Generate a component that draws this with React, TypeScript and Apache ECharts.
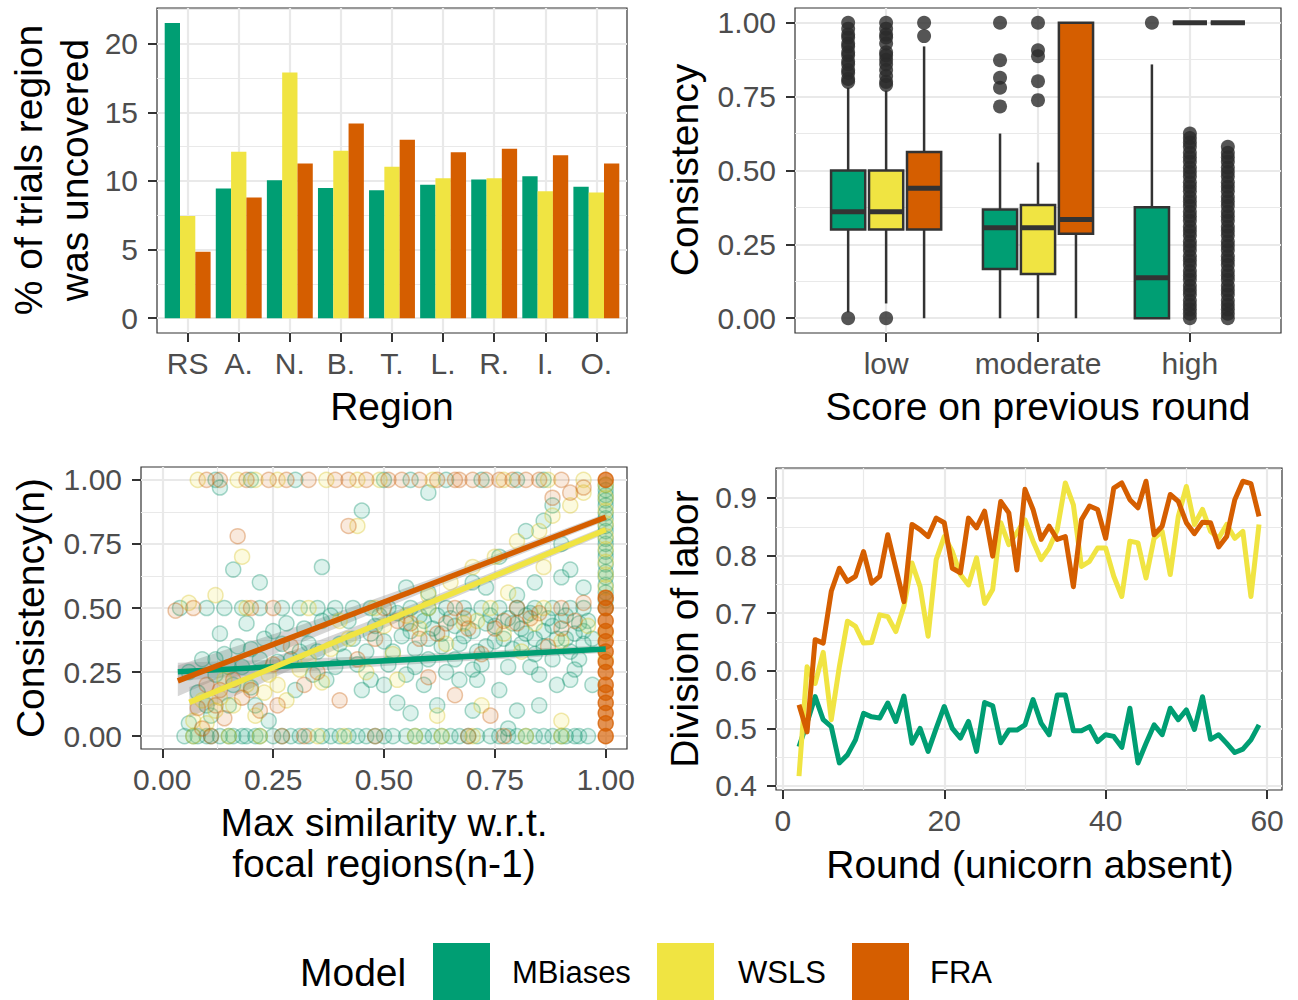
import React, { useEffect, useRef } from 'react';
import * as echarts from 'echarts';

const FONT = '"Liberation Sans", Arial, Helvetica, sans-serif';
const C_MB = '#009E73';
const C_WS = '#F0E442';
const C_FRA = '#D55E00';
const GRID = '#e9e9e9';
const TICK_TXT = '#4d4d4d';

// ---------- Panel A: % of trials region was uncovered ----------
const regions = ['RS', 'A.', 'N.', 'B.', 'T.', 'L.', 'R.', 'I.', 'O.'];
const regionPos = [1, 2, 3, 4, 5, 6, 7, 8, 9];
const pctMBiases = [21.5, 9.45, 10.06, 9.48, 9.33, 9.72, 10.1, 10.35, 9.58];
const pctWSLS = [7.44, 12.12, 17.9, 12.2, 11.03, 10.2, 10.2, 9.26, 9.16];
const pctFRA = [4.85, 8.8, 11.27, 14.18, 13.0, 12.1, 12.34, 11.88, 11.27];
const pctTicks = [0, 5, 10, 15, 20];
const pctMinor = [2.5, 7.5, 12.5, 17.5, 22.5];

// ---------- Panel B: consistency by score on previous round ----------
const scoreGroups = ['low', 'moderate', 'high'];
const scorePos = [1, 2, 3];
// [lower whisker, Q1, median, Q3, upper whisker]
const boxMBiases = [
  [0.02, 0.3, 0.36, 0.5, 0.78],
  [0, 0.167, 0.306, 0.368, 0.625],
  [0, 0, 0.137, 0.376, 0.859],
];
const boxWSLS = [
  [0.05, 0.3, 0.36, 0.5, 0.77],
  [0, 0.15, 0.306, 0.383, 0.527],
  [1, 1, 1, 1, 1],
];
const boxFRA = [
  [0, 0.3, 0.44, 0.563, 0.92],
  [0, 0.286, 0.334, 1.0, 1.0],
  [1, 1, 1, 1, 1],
];
const outMBiases = [
  [0, 0.8, 0.81, 0.83, 0.84, 0.86, 0.87, 0.89, 0.9, 0.92, 0.93, 0.95, 0.96, 0.98, 1.0],
  [0.717, 0.78, 0.814, 0.873, 1.0],
  [1.0],
];
const outWSLS = [
  [0, 0.79, 0.8, 0.82, 0.84, 0.86, 0.875, 0.89, 0.9, 0.93, 0.95, 0.96, 0.98, 1.0],
  [0.738, 0.802, 0.887, 0.907, 1.0],
  [0, 0.015, 0.03, 0.045, 0.06, 0.08, 0.095, 0.11, 0.13, 0.145, 0.16, 0.18, 0.195, 0.21, 0.23, 0.245, 0.26, 0.28, 0.295, 0.31, 0.33, 0.345, 0.36, 0.38, 0.395, 0.41, 0.43, 0.445, 0.46, 0.48, 0.495, 0.51, 0.53, 0.545, 0.56, 0.58, 0.595, 0.61, 0.625],
];
const outFRA = [
  [0.955, 1.0],
  [],
  [0, 0.015, 0.03, 0.045, 0.06, 0.08, 0.095, 0.11, 0.13, 0.145, 0.16, 0.18, 0.195, 0.21, 0.23, 0.245, 0.26, 0.28, 0.295, 0.31, 0.33, 0.345, 0.36, 0.38, 0.395, 0.41, 0.43, 0.445, 0.46, 0.48, 0.495, 0.51, 0.53, 0.545, 0.56, 0.58],
];
const consTicks = [0, 0.25, 0.5, 0.75, 1];
const consMinor = [0.125, 0.375, 0.625, 0.875];

// ---------- Panel C: consistency(n) vs max similarity ----------
const simMBiases = [
  [0.05, 0], [0.07, 0], [0.08, 0], [0.1, 0], [0.11, 0], [0.13, 0], [0.15, 0], [0.16, 0], [0.18, 0], [0.19, 0], [0.21, 0], [0.22, 0], [0.25, 0], [0.27, 0], [0.29, 0], [0.31, 0], [0.33, 0], [0.36, 0], [0.38, 0], [0.4, 0], [0.42, 0], [0.44, 0], [0.46, 0], [0.48, 0], [0.5, 0], [0.52, 0], [0.55, 0], [0.57, 0], [0.59, 0], [0.61, 0], [0.63, 0], [0.65, 0], [0.67, 0], [0.69, 0], [0.71, 0], [0.74, 0], [0.76, 0], [0.78, 0], [0.8, 0], [0.82, 0], [0.84, 0], [0.86, 0], [0.88, 0], [0.9, 0], [0.91, 0], [0.93, 0], [0.94, 0], [0.96, 0],
  [0.04, 0.5], [0.1, 0.5], [0.14, 0.5], [0.18, 0.5], [0.22, 0.5], [0.27, 0.5], [0.31, 0.5], [0.35, 0.5], [0.39, 0.5], [0.43, 0.5], [0.47, 0.5], [0.51, 0.5], [0.56, 0.5], [0.6, 0.5], [0.64, 0.5], [0.68, 0.5], [0.72, 0.5], [0.76, 0.5], [0.8, 0.5], [0.84, 0.5], [0.88, 0.5], [0.92, 0.5], [0.95, 0.5],
  [0.06, 0.05], [0.08, 0.17], [0.11, 0.08], [0.12, 0.24], [0.14, 0.32], [0.15, 0.12], [0.18, 0.27], [0.2, 0.19], [0.21, 0.12], [0.23, 0.38], [0.24, 0.06], [0.26, 0.29], [0.28, 0.44], [0.3, 0.18], [0.32, 0.42], [0.34, 0.24], [0.35, 0.33], [0.37, 0.22], [0.38, 0.47], [0.4, 0.36], [0.42, 0.45], [0.44, 0.28], [0.45, 0.18], [0.47, 0.4], [0.49, 0.47], [0.5, 0.2], [0.51, 0.28], [0.52, 0.33], [0.53, 0.13], [0.54, 0.39], [0.55, 0.44], [0.57, 0.27], [0.58, 0.47], [0.59, 0.2], [0.6, 0.38], [0.61, 0.42], [0.62, 0.12], [0.63, 0.35], [0.64, 0.25], [0.65, 0.46], [0.66, 0.3], [0.67, 0.22], [0.68, 0.39], [0.69, 0.47], [0.7, 0.1], [0.71, 0.22], [0.72, 0.28], [0.73, 0.35], [0.74, 0.47], [0.75, 0.43], [0.76, 0.18], [0.77, 0.38], [0.78, 0.27], [0.79, 0.44], [0.8, 0.1], [0.81, 0.36], [0.82, 0.4], [0.83, 0.48], [0.84, 0.32], [0.85, 0.24], [0.86, 0.41], [0.87, 0.46], [0.88, 0.3], [0.89, 0.2], [0.9, 0.45], [0.91, 0.38], [0.92, 0.22], [0.93, 0.4], [0.94, 0.3], [0.95, 0.36], [0.96, 0.45], [0.97, 0.2], [0.78, 0.03], [0.56, 0.09], [0.85, 0.12],
  [0.06, 0.25], [0.09, 0.3], [0.13, 0.4], [0.17, 0.35], [0.19, 0.44], [0.25, 0.41], [0.29, 0.3], [0.33, 0.36], [0.36, 0.45], [0.41, 0.31], [0.43, 0.38], [0.46, 0.33], [0.1, 0.12], [0.16, 0.2], [0.22, 0.3],
  [0.48, 0.43], [0.5, 0.37], [0.53, 0.48], [0.56, 0.41], [0.57, 0.34], [0.59, 0.45], [0.62, 0.47], [0.63, 0.4], [0.66, 0.43], [0.67, 0.36], [0.7, 0.41], [0.71, 0.33], [0.73, 0.44], [0.75, 0.37], [0.78, 0.46], [0.79, 0.34], [0.81, 0.42], [0.82, 0.47], [0.84, 0.38], [0.86, 0.35], [0.88, 0.43], [0.89, 0.38], [0.91, 0.47], [0.92, 0.33], [0.94, 0.44], [0.95, 0.41], [0.97, 0.38], [0.6, 0.3], [0.7, 0.26], [0.83, 0.27], [0.93, 0.26], [0.55, 0.24], [0.47, 0.22], [0.39, 0.27], [0.31, 0.33], [0.27, 0.36], [0.2, 0.34], [0.15, 0.27], [0.12, 0.3],
  [0.55, 0.58], [0.6, 0.56], [0.73, 0.58], [0.8, 0.55], [0.84, 0.6], [0.9, 0.62], [0.95, 0.58], [0.22, 0.6], [0.36, 0.66], [0.16, 0.65], [0.7, 0.6], [0.76, 0.7], [0.82, 0.8], [0.86, 0.84], [0.88, 0.9], [0.92, 0.65], [0.9, 0.75], [0.45, 0.88], [0.6, 0.95], [0.13, 0.97],
  [0.12, 1], [0.2, 1], [0.3, 1], [0.5, 1], [0.56, 1], [0.64, 1], [0.72, 1], [0.8, 1], [0.86, 1],
  [1, 0.5], [1, 0.53], [1, 0.56], [1, 0.59], [1, 0.62], [1, 0.64], [1, 0.67], [1, 0.7], [1, 0.72], [1, 0.75], [1, 0.77], [1, 0.8], [1, 0.82], [1, 0.85], [1, 0.87], [1, 0.9], [1, 0.92], [1, 0.94], [1, 0.96], [1, 0.98],
];
const simWSLS = [
  [0.07, 0], [0.15, 0], [0.22, 0], [0.35, 0], [0.41, 0], [0.57, 0], [0.63, 0], [0.7, 0], [0.82, 0], [0.9, 0],
  [0.08, 1], [0.17, 1], [0.21, 1], [0.26, 1], [0.37, 1], [0.44, 1], [0.49, 1], [0.61, 1], [0.77, 1], [0.87, 1], [0.95, 1],
  [0.06, 0.52], [0.19, 0.5], [0.33, 0.5], [0.48, 0.5], [0.6, 0.5], [0.74, 0.5], [0.86, 0.5],
  [0.07, 0.06], [0.1, 0.05], [0.12, 0.1], [0.13, 0.15], [0.16, 0.12], [0.19, 0.2], [0.21, 0.08], [0.24, 0.24], [0.26, 0.2], [0.28, 0.14], [0.31, 0.26], [0.33, 0.3], [0.36, 0.21], [0.38, 0.34], [0.42, 0.38], [0.46, 0.25], [0.5, 0.43], [0.53, 0.22], [0.55, 0.47], [0.6, 0.55], [0.65, 0.6], [0.68, 0.44], [0.7, 0.66], [0.72, 0.12], [0.75, 0.7], [0.8, 0.76], [0.81, 0.33], [0.85, 0.8], [0.88, 0.86], [0.9, 0.06], [0.92, 0.9], [0.95, 0.95], [0.62, 0.08], [0.12, 0.55], [0.18, 0.7], [0.44, 0.82], [0.86, 0.66], [0.78, 0.56],
  [0.58, 0.42], [0.64, 0.36], [0.71, 0.45], [0.77, 0.4], [0.84, 0.44], [0.9, 0.37], [0.96, 0.43], [0.52, 0.32], [0.4, 0.45], [0.23, 0.17], [0.14, 0.22], [0.09, 0.14],
  [1, 0.3], [1, 0.4], [1, 0.58], [1, 0.63], [1, 0.68], [1, 0.73], [1, 0.78], [1, 0.83], [1, 0.88], [1, 0.93], [1, 0.98],
];
const simFRA = [
  [0.1, 1], [0.13, 1], [0.19, 1], [0.24, 1], [0.28, 1], [0.33, 1], [0.39, 1], [0.42, 1], [0.46, 1], [0.51, 1], [0.54, 1], [0.58, 1], [0.62, 1], [0.66, 1], [0.67, 1], [0.7, 1], [0.73, 1], [0.76, 1], [0.79, 1], [0.82, 1], [0.85, 1], [0.9, 1],
  [0.03, 0.49], [0.07, 0.5], [0.2, 0.5], [0.25, 0.5], [0.5, 0.5], [0.66, 0.5], [0.8, 0.5], [0.9, 0.5], [0.95, 0.52],
  [0.11, 0], [0.27, 0], [0.32, 0], [0.48, 0], [0.69, 0], [0.77, 0],
  [0.09, 0.03], [0.1, 0.2], [0.12, 0.12], [0.14, 0.07], [0.16, 0.22], [0.18, 0.15], [0.2, 0.18], [0.22, 0.1], [0.25, 0.28], [0.26, 0.12], [0.29, 0.35], [0.32, 0.2], [0.35, 0.25], [0.4, 0.14], [0.44, 0.3], [0.48, 0.38], [0.53, 0.45], [0.58, 0.38], [0.6, 0.23], [0.64, 0.44], [0.66, 0.16], [0.69, 0.42], [0.72, 0.32], [0.77, 0.45], [0.83, 0.46], [0.87, 0.35], [0.17, 0.78], [0.42, 0.82], [0.88, 0.93], [0.92, 0.95], [0.95, 0.97], [0.9, 0.42], [0.74, 0.08],
  [0.62, 0.4], [0.68, 0.46], [0.75, 0.42], [0.8, 0.44], [0.85, 0.48], [0.93, 0.45], [0.56, 0.44], [0.13, 0.18], [0.08, 0.11],
];
const simFRAatOne = [
  [1, 0], [1, 0.05], [1, 0.09], [1, 0.13], [1, 0.17], [1, 0.2], [1, 0.25], [1, 0.29], [1, 0.33], [1, 0.37], [1, 0.41], [1, 0.45], [1, 0.5], [1, 0.54], [1, 1],
];
const fitMBiases = [[0.035, 0.251], [1, 0.34]];
const fitWSLS = [[0.061, 0.132], [1, 0.805]];
const fitFRA = [[0.035, 0.216], [1, 0.854]];
// [x, lower, upper] of the confidence ribbon
const bandMBiases = [[0.035, 0.216, 0.286], [0.5, 0.274, 0.314], [1, 0.325, 0.355]];
const bandWSLS = [[0.061, 0.072, 0.192], [0.3, 0.268, 0.338], [0.6, 0.498, 0.538], [1, 0.79, 0.82]];
const bandFRA = [[0.035, 0.156, 0.276], [0.3, 0.356, 0.426], [0.6, 0.569, 0.609], [1, 0.839, 0.869]];
const simTicks = [0, 0.25, 0.5, 0.75, 1];
const simMinor = [0.125, 0.375, 0.625, 0.875];

// ---------- Panel D: division of labor by round ----------
const rounds = [2, 3, 4, 5, 6, 7, 8, 9, 10, 11, 12, 13, 14, 15, 16, 17, 18, 19, 20, 21, 22, 23, 24, 25, 26, 27, 28, 29, 30, 31, 32, 33, 34, 35, 36, 37, 38, 39, 40, 41, 42, 43, 44, 45, 46, 47, 48, 49, 50, 51, 52, 53, 54, 55, 56, 57, 58, 59];
const divMBiases = [0.468, 0.51, 0.555, 0.515, 0.503, 0.44, 0.454, 0.48, 0.526, 0.52, 0.518, 0.544, 0.512, 0.556, 0.474, 0.5, 0.46, 0.5, 0.538, 0.5, 0.483, 0.512, 0.46, 0.545, 0.539, 0.475, 0.497, 0.497, 0.506, 0.55, 0.509, 0.489, 0.558, 0.558, 0.496, 0.496, 0.503, 0.477, 0.489, 0.486, 0.467, 0.535, 0.44, 0.474, 0.506, 0.489, 0.535, 0.515, 0.532, 0.498, 0.555, 0.481, 0.489, 0.474, 0.458, 0.464, 0.48, 0.506];
const divWSLS = [0.417, 0.607, 0.578, 0.632, 0.515, 0.607, 0.686, 0.677, 0.648, 0.649, 0.697, 0.694, 0.668, 0.712, 0.787, 0.746, 0.66, 0.793, 0.833, 0.807, 0.767, 0.749, 0.796, 0.717, 0.741, 0.857, 0.819, 0.84, 0.862, 0.825, 0.793, 0.813, 0.845, 0.926, 0.888, 0.781, 0.79, 0.813, 0.813, 0.764, 0.729, 0.825, 0.822, 0.761, 0.83, 0.842, 0.767, 0.868, 0.92, 0.854, 0.88, 0.842, 0.83, 0.854, 0.83, 0.842, 0.729, 0.854];
const divFRA = [0.541, 0.494, 0.654, 0.648, 0.738, 0.778, 0.755, 0.764, 0.807, 0.752, 0.764, 0.836, 0.778, 0.72, 0.854, 0.845, 0.833, 0.865, 0.857, 0.778, 0.77, 0.865, 0.848, 0.877, 0.799, 0.894, 0.874, 0.775, 0.915, 0.88, 0.828, 0.851, 0.828, 0.833, 0.746, 0.862, 0.886, 0.88, 0.83, 0.917, 0.926, 0.897, 0.883, 0.929, 0.836, 0.851, 0.906, 0.894, 0.857, 0.838, 0.858, 0.857, 0.815, 0.833, 0.897, 0.929, 0.925, 0.868];
const roundTicks = [0, 20, 40, 60];
const roundMinor = [10, 30, 50];
const divTicks = [0.4, 0.5, 0.6, 0.7, 0.8, 0.9];
const divMinor = [0.45, 0.55, 0.65, 0.75, 0.85, 0.95];

const models = ['MBiases', 'WSLS', 'FRA'];
const modelColors = [C_MB, C_WS, C_FRA];

function majorAxis(gridIndex: number, min: number, max: number, ticks: number[], fmt: (v: number) => string, isX: boolean) {
  return {
    type: 'value',
    gridIndex,
    min,
    max,
    position: isX ? 'bottom' : 'left',
    axisLine: { show: false, onZero: false },
    axisTick: { show: true, length: 9, customValues: ticks, lineStyle: { color: '#333333', width: 2 } },
    axisLabel: {
      show: true,
      customValues: ticks,
      formatter: (v: number) => fmt(v),
      margin: isX ? 15 : 19,
      color: TICK_TXT,
      fontSize: 30,
      fontFamily: FONT,
      hideOverlap: false,
    },
    splitLine: { show: true, lineStyle: { color: GRID, width: 2.2 } },
    minorSplitLine: { show: false },
  };
}
function minorAxis(gridIndex: number, min: number, max: number, ticks: number[], isX: boolean) {
  return {
    type: 'value',
    gridIndex,
    min,
    max,
    position: isX ? 'top' : 'right',
    axisLine: { show: false, onZero: false },
    axisTick: { show: false, customValues: ticks },
    axisLabel: { show: false, customValues: ticks },
    splitLine: { show: true, lineStyle: { color: GRID, width: 1.2 } },
  };
}

function boxRender(params: any, api: any) {
  const x = api.value(0);
  const lo = api.coord([x, api.value(1)]);
  const q1 = api.coord([x, api.value(2)]);
  const med = api.coord([x, api.value(3)]);
  const q3 = api.coord([x, api.value(4)]);
  const hi = api.coord([x, api.value(5)]);
  const ci = api.value(6);
  const half = api.size([0.225, 0])[0] / 2;
  const stroke = '#333333';
  return {
    type: 'group',
    children: [
      { type: 'line', shape: { x1: lo[0], y1: lo[1], x2: q1[0], y2: q1[1] }, style: { stroke, lineWidth: 2.5 } },
      { type: 'line', shape: { x1: q3[0], y1: q3[1], x2: hi[0], y2: hi[1] }, style: { stroke, lineWidth: 2.5 } },
      {
        type: 'rect',
        shape: { x: med[0] - half, y: q3[1], width: half * 2, height: q1[1] - q3[1] },
        style: { fill: modelColors[ci], stroke, lineWidth: 2.5 },
      },
      { type: 'line', shape: { x1: med[0] - half, y1: med[1], x2: med[0] + half, y2: med[1] }, style: { stroke, lineWidth: 5 } },
    ],
  };
}

function bandSeries(band: number[][], name: string) {
  return {
    type: 'custom',
    name,
    xAxisIndex: 2,
    yAxisIndex: 4,
    silent: true,
    data: [[band[0][0], band[0][1]]],
    renderItem: (params: any, api: any) => {
      const upper = band.map((p) => api.coord([p[0], p[2]]));
      const lower = band.map((p) => api.coord([p[0], p[1]])).reverse();
      return { type: 'polygon', shape: { points: upper.concat(lower) }, style: { fill: 'rgba(153,153,153,0.4)' } };
    },
  };
}

function fitSeries(fit: number[][], color: string) {
  return {
    type: 'line',
    xAxisIndex: 2,
    yAxisIndex: 4,
    data: fit,
    showSymbol: false,
    silent: true,
    lineStyle: { color, width: 5.5, cap: 'butt' },
  };
}

function pointsSeries(pts: number[][], fill: string, border: string) {
  return {
    type: 'scatter',
    xAxisIndex: 2,
    yAxisIndex: 4,
    data: pts,
    symbolSize: 15,
    silent: true,
    itemStyle: { color: fill, borderColor: border, borderWidth: 1.5 },
  };
}

function buildOption() {
  const offsets = [-0.25, 0, 0.25];
  const boxStats = [boxMBiases, boxWSLS, boxFRA];
  const boxData: number[][] = [];
  boxStats.forEach((st, mi) => {
    st.forEach((s, gi) => {
      boxData.push([scorePos[gi] + offsets[mi], s[0], s[1], s[2], s[3], s[4], mi]);
    });
  });
  const outliers: number[][] = [];
  [outMBiases, outWSLS, outFRA].forEach((o, mi) => {
    o.forEach((vals, gi) => {
      vals.forEach((v) => outliers.push([scorePos[gi] + offsets[mi], v]));
    });
  });

  const barSeries = [pctMBiases, pctWSLS, pctFRA].map((vals, mi) => ({
    type: 'bar',
    name: models[mi],
    xAxisIndex: 0,
    yAxisIndex: 0,
    data: vals.map((v, i) => [regionPos[i], v]),
    barWidth: 15.3,
    barGap: '0%',
    itemStyle: { color: modelColors[mi] },
    silent: true,
  }));

  const lineSeries = [divMBiases, divWSLS, divFRA].map((vals, mi) => ({
    type: 'line',
    name: models[mi],
    xAxisIndex: 4,
    yAxisIndex: 6,
    data: vals.map((v, i) => [rounds[i], v]),
    showSymbol: false,
    silent: true,
    lineStyle: { color: modelColors[mi], width: 5, join: 'round' },
  }));

  const titleFont = `39px ${FONT}`;
  const legendFont = `31px ${FONT}`;
  const txt = (text: string, x: number, y: number, rot: number, font = titleFont, align = 'center') => ({
    type: 'text',
    x,
    y,
    rotation: rot,
    silent: true,
    style: {
      text,
      font,
      fill: '#000000',
      align,
      verticalAlign: 'middle',
      textAlign: align,
      textVerticalAlign: 'middle',
    },
  });

  return {
    animation: false,
    backgroundColor: '#ffffff',
    textStyle: { fontFamily: FONT },
    grid: [
      { left: 157, top: 8, width: 470, height: 325, show: true, borderColor: '#333333', borderWidth: 1.2, backgroundColor: '#fff' },
      { left: 795, top: 8, width: 486, height: 325, show: true, borderColor: '#333333', borderWidth: 1.2, backgroundColor: '#fff' },
      { left: 141, top: 467, width: 486, height: 282, show: true, borderColor: '#333333', borderWidth: 1.2, backgroundColor: '#fff' },
      { left: 776, top: 468, width: 506, height: 322, show: true, borderColor: '#333333', borderWidth: 1.2, backgroundColor: '#fff' },
    ],
    xAxis: [
      majorAxis(0, 0.4, 9.6, regionPos, (v) => regions[Math.round(v) - 1] ?? '', true),
      majorAxis(1, 0.4, 3.6, scorePos, (v) => scoreGroups[Math.round(v) - 1] ?? '', true),
      majorAxis(2, -0.048, 1.048, simTicks, (v) => v.toFixed(2), true),
      minorAxis(2, -0.048, 1.048, simMinor, true),
      majorAxis(3, -0.85, 61.85, roundTicks, (v) => String(v), true),
      minorAxis(3, -0.85, 61.85, roundMinor, true),
    ],
    yAxis: [
      majorAxis(0, -1.075, 22.6, pctTicks, (v) => String(v), false),
      minorAxis(0, -1.075, 22.6, pctMinor, false),
      majorAxis(1, -0.05, 1.05, consTicks, (v) => v.toFixed(2), false),
      minorAxis(1, -0.05, 1.05, consMinor, false),
      majorAxis(2, -0.05, 1.05, consTicks, (v) => v.toFixed(2), false),
      minorAxis(2, -0.05, 1.05, consMinor, false),
      majorAxis(3, 0.393, 0.952, divTicks, (v) => v.toFixed(1), false),
      minorAxis(3, 0.393, 0.952, divMinor, false),
    ],
    series: [
      ...barSeries,
      {
        type: 'custom',
        name: 'boxes',
        xAxisIndex: 1,
        yAxisIndex: 2,
        data: boxData,
        encode: { x: 0, y: [1, 2, 3, 4, 5] },
        renderItem: boxRender,
        silent: true,
      },
      {
        type: 'scatter',
        name: 'outliers',
        xAxisIndex: 1,
        yAxisIndex: 2,
        data: outliers,
        symbolSize: 14,
        silent: true,
        itemStyle: { color: '#2b2b2b' },
      },
      pointsSeries(simMBiases, 'rgba(0,158,115,0.17)', 'rgba(0,140,100,0.42)'),
      pointsSeries(simWSLS, 'rgba(240,228,66,0.22)', 'rgba(215,195,40,0.45)'),
      pointsSeries(simFRA, 'rgba(213,94,0,0.17)', 'rgba(200,90,0,0.42)'),
      pointsSeries(simFRAatOne, 'rgba(213,94,0,0.85)', 'rgba(213,94,0,0.95)'),
      bandSeries(bandMBiases, 'bandMB'),
      fitSeries(fitMBiases, C_MB),
      bandSeries(bandWSLS, 'bandWS'),
      fitSeries(fitWSLS, C_WS),
      bandSeries(bandFRA, 'bandFRA'),
      fitSeries(fitFRA, C_FRA),
      ...lineSeries,
    ],
    graphic: [
      txt('% of trials region', 28, 170, Math.PI / 2),
      txt('was uncovered', 74, 170, Math.PI / 2),
      txt('Region', 392, 406, 0),
      txt('Consistency', 684, 170, Math.PI / 2),
      txt('Score on previous round', 1038, 406, 0),
      txt('Consistency(n)', 30, 608, Math.PI / 2),
      txt('Max similarity w.r.t.', 384, 822, 0),
      txt('focal regions(n-1)', 384, 863, 0),
      txt('Division of labor', 684, 629, Math.PI / 2),
      txt('Round (unicorn absent)', 1030, 864, 0),
      txt('Model', 300, 972, 0, titleFont, 'left'),
      { type: 'rect', x: 433, y: 943, shape: { width: 57, height: 57 }, style: { fill: C_MB }, silent: true },
      txt('MBiases', 512, 972, 0, legendFont, 'left'),
      { type: 'rect', x: 657, y: 943, shape: { width: 57, height: 57 }, style: { fill: C_WS }, silent: true },
      txt('WSLS', 738, 972, 0, legendFont, 'left'),
      { type: 'rect', x: 852, y: 943, shape: { width: 57, height: 57 }, style: { fill: C_FRA }, silent: true },
      txt('FRA', 930, 972, 0, legendFont, 'left'),
    ],
  };
}

export default function App() {
  const ref = useRef<HTMLDivElement>(null);
  useEffect(() => {
    if (!ref.current) return;
    const chart = echarts.init(ref.current, null, { renderer: 'svg' });
    chart.setOption(buildOption() as any);
    return () => chart.dispose();
  }, []);
  return (
    <div
      ref={ref}
      style={{ position: 'absolute', left: 0, top: 0, width: 1298, height: 1000, background: '#ffffff' }}
    />
  );
}
